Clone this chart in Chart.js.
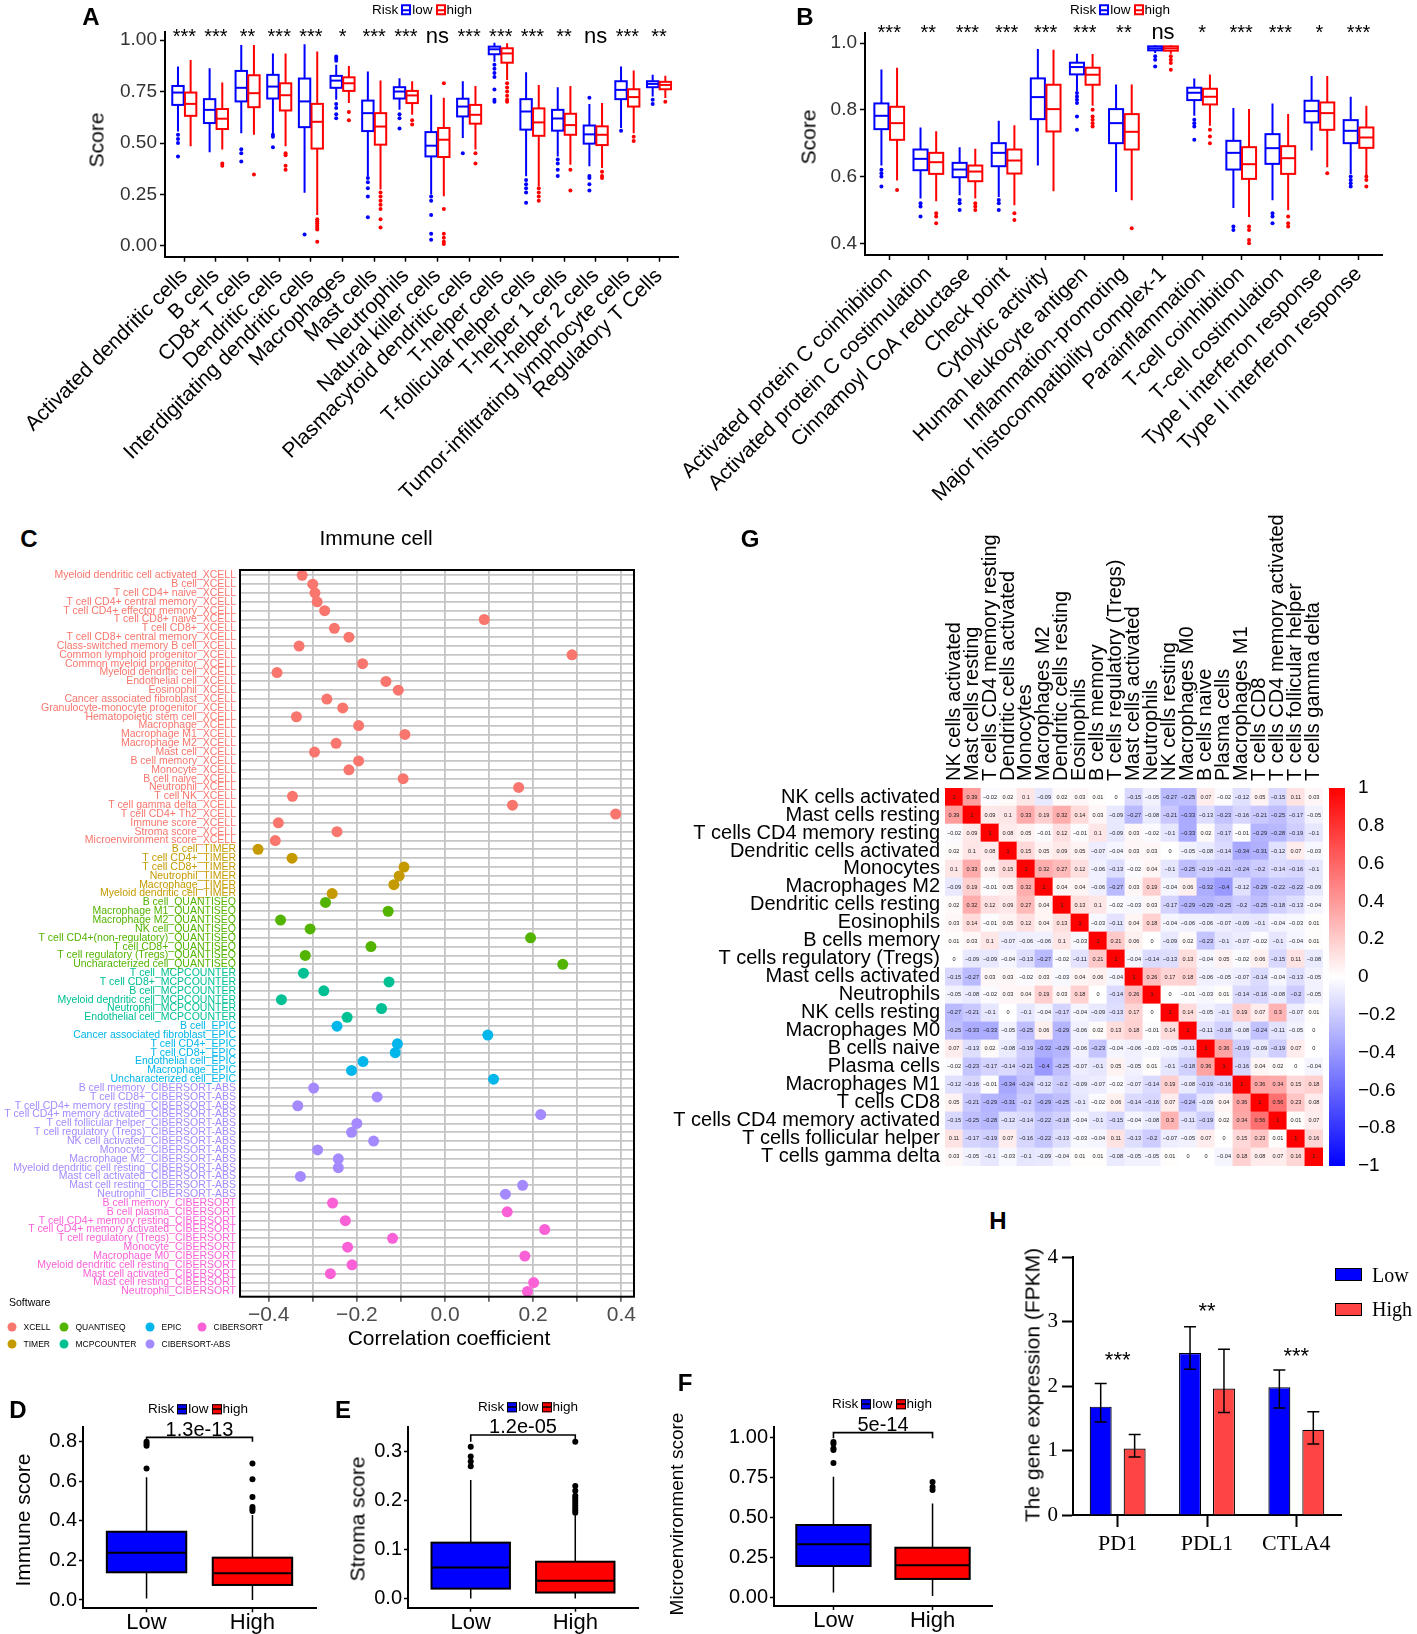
<!DOCTYPE html>
<html>
<head>
<meta charset="utf-8">
<title>Immune landscape by risk group</title>
<script src="https://cdn.jsdelivr.net/npm/chart.js@4.4.1/dist/chart.umd.min.js"></script>
<style>
  html, body { margin: 0; padding: 0; background: #fff; }
  body { position: relative; width: 1417px; height: 1634px; overflow: hidden;
         font-family: "Liberation Sans", Arial, Helvetica, sans-serif; color: #000; }
  canvas { position: absolute; }
  .t { position: absolute; white-space: nowrap; line-height: 1; transform: translate(-50%, -50%); }
  .v { transform: translate(-50%, -50%) rotate(-90deg); }
  .letter { font-weight: bold; font-size: 24px; }
  .leg { position: absolute; white-space: nowrap; line-height: 1; font-size: 13.5px;
         transform: translateY(-50%); display: flex; align-items: center; }
  .ob { display: inline-block; width: 10px; height: 11px; box-sizing: border-box; border: 2px solid currentColor;
        background: linear-gradient(currentColor, currentColor) center / 100% 2px no-repeat; margin: 0 1px 0 3px; }
  .fb { display: inline-block; width: 10px; height: 10px; box-sizing: border-box; border: 1px solid #000;
        background: linear-gradient(#000, #000) center / 100% 1.5px no-repeat; margin: 0 1px 0 3px; }
  .sw { position: absolute; white-space: nowrap; line-height: 1; font-size: 8.5px;
        transform: translate(-4.5px, -50%); display: flex; align-items: center; }
  .sw i { display: inline-block; width: 9px; height: 9px; border-radius: 50%; margin-right: 7px; }
  .hl { position: absolute; width: 27px; height: 13px; box-sizing: border-box; border: 1.5px solid #000; }
  .serif { font-family: "Liberation Serif", "Times New Roman", serif; }
</style>
</head>
<body>
<canvas id="chartA" width="700" height="520" style="left:0;top:0"></canvas>
<canvas id="chartB" width="777" height="520" style="left:640px;top:0"></canvas>
<canvas id="chartC" width="660" height="780" style="left:0;top:555px"></canvas>
<canvas id="chartG" width="770" height="720" style="left:640px;top:480px"></canvas>
<canvas id="chartD" width="330" height="244" style="left:0;top:1390px"></canvas>
<canvas id="chartE" width="330" height="244" style="left:330px;top:1390px"></canvas>
<canvas id="chartF" width="350" height="244" style="left:660px;top:1390px"></canvas>
<canvas id="chartH" width="427" height="340" style="left:990px;top:1240px"></canvas>

<!-- panel letters -->
<div class="t letter" style="left:91px;top:17px">A</div>
<div class="t letter" style="left:805px;top:17px">B</div>
<div class="t letter" style="left:29px;top:539px">C</div>
<div class="t letter" style="left:750px;top:539px">G</div>
<div class="t letter" style="left:18px;top:1410px">D</div>
<div class="t letter" style="left:343px;top:1410px">E</div>
<div class="t letter" style="left:685px;top:1383px">F</div>
<div class="t letter" style="left:998px;top:1221px">H</div>

<!-- legends A / B -->
<div class="leg" style="left:372px;top:10px">Risk<span class="ob" style="color:#0000FF"></span>low<span class="ob" style="color:#FF0000"></span>high</div>
<div class="leg" style="left:1070px;top:10px">Risk<span class="ob" style="color:#0000FF"></span>low<span class="ob" style="color:#FF0000"></span>high</div>

<!-- axis titles -->
<div class="t v" style="left:96px;top:140px;font-size:21px">Score</div>
<div class="t v" style="left:808px;top:137px;font-size:21px">Score</div>
<div class="t" style="left:376px;top:537px;font-size:21px">Immune cell</div>
<div class="t" style="left:449px;top:1337px;font-size:21px">Correlation coefficient</div>
<div class="t v" style="left:22px;top:1520px;font-size:21px">Immune score</div>
<div class="t v" style="left:357px;top:1519px;font-size:21px">Stroma score</div>
<div class="t v" style="left:676px;top:1514px;font-size:19px">Microenvironment score</div>
<div class="t v" style="left:1032px;top:1385px;font-size:21px">The gene expression (FPKM)</div>

<!-- software legend (C) -->
<div style="position:absolute;left:9px;top:1297px;font-size:10.5px;line-height:1">Software</div>
<div class="sw" style="left:12px;top:1327px"><i style="background:#F8766D"></i>XCELL</div>
<div class="sw" style="left:64px;top:1327px"><i style="background:#53B400"></i>QUANTISEQ</div>
<div class="sw" style="left:150px;top:1327px"><i style="background:#00B6EB"></i>EPIC</div>
<div class="sw" style="left:202px;top:1327px"><i style="background:#FB61D7"></i>CIBERSORT</div>
<div class="sw" style="left:12px;top:1344px"><i style="background:#C49A00"></i>TIMER</div>
<div class="sw" style="left:64px;top:1344px"><i style="background:#00C094"></i>MCPCOUNTER</div>
<div class="sw" style="left:150px;top:1344px"><i style="background:#A58AFF"></i>CIBERSORT-ABS</div>

<!-- legends D / E / F -->
<div class="leg" style="left:148px;top:1409px">Risk<span class="fb" style="background-color:#0000FF"></span>low<span class="fb" style="background-color:#FF0000"></span>high</div>
<div class="leg" style="left:478px;top:1407px">Risk<span class="fb" style="background-color:#0000FF"></span>low<span class="fb" style="background-color:#FF0000"></span>high</div>
<div class="leg" style="left:832px;top:1404px">Risk<span class="fb" style="background-color:#0000FF"></span>low<span class="fb" style="background-color:#FF0000"></span> high</div>

<!-- legend H -->
<div class="hl" style="left:1335px;top:1268px;background:#0000FF"></div>
<div class="t serif" style="left:1372px;top:1275px;font-size:20px;transform:translateY(-50%)">Low</div>
<div class="hl" style="left:1335px;top:1303px;background:#FF4444"></div>
<div class="t serif" style="left:1372px;top:1309px;font-size:20px;transform:translateY(-50%)">High</div>

<script>
const FONT = '"Liberation Sans", Arial, Helvetica, sans-serif';
const SERIF = '"Liberation Serif", "Times New Roman", serif';
const LOW = '#0000FF';
const HIGH = '#FF0000';

// ---------- panel A : immune cell scores ----------
const aCategories = ['Activated dendritic cells', 'B cells', 'CD8+ T cells', 'Dendritic cells',
  'Interdigitating dendritic cells', 'Macrophages', 'Mast cells', 'Neutrophils', 'Natural killer cells',
  'Plasmacytoid dendritic cells', 'T-helper cells', 'T-follicular helper cells', 'T-helper 1 cells',
  'T-helper 2 cells', 'Tumor-infiltrating lymphocyte cells', 'Regulatory T Cells'];
// [lower whisker, q1, median, q3, upper whisker]
const aLowStats = [
  [0.556, 0.685, 0.745, 0.777, 0.871], [0.455, 0.597, 0.661, 0.713, 0.863],
  [0.548, 0.702, 0.768, 0.850, 0.976], [0.548, 0.716, 0.774, 0.831, 0.935],
  [0.258, 0.577, 0.702, 0.813, 0.979], [0.710, 0.768, 0.803, 0.826, 0.880],
  [0.339, 0.558, 0.645, 0.706, 0.847], [0.661, 0.716, 0.750, 0.771, 0.815],
  [0.250, 0.435, 0.487, 0.553, 0.734], [0.524, 0.629, 0.677, 0.715, 0.800],
  [0.895, 0.931, 0.955, 0.968, 0.987], [0.339, 0.565, 0.653, 0.713, 0.844],
  [0.435, 0.560, 0.619, 0.661, 0.771], [0.387, 0.497, 0.542, 0.585, 0.690],
  [0.573, 0.713, 0.758, 0.800, 0.871], [0.726, 0.771, 0.787, 0.800, 0.831]];
const aHighStats = [
  [0.484, 0.632, 0.690, 0.745, 0.903], [0.468, 0.568, 0.618, 0.665, 0.794],
  [0.540, 0.674, 0.742, 0.829, 0.976], [0.484, 0.658, 0.732, 0.790, 0.935],
  [0.150, 0.473, 0.603, 0.690, 0.944], [0.694, 0.753, 0.790, 0.819, 0.874],
  [0.274, 0.492, 0.580, 0.645, 0.803], [0.637, 0.694, 0.731, 0.753, 0.800],
  [0.242, 0.432, 0.516, 0.573, 0.720], [0.468, 0.594, 0.637, 0.685, 0.777],
  [0.806, 0.890, 0.935, 0.960, 0.984], [0.290, 0.535, 0.600, 0.668, 0.782],
  [0.395, 0.540, 0.587, 0.642, 0.777], [0.379, 0.490, 0.540, 0.581, 0.694],
  [0.548, 0.677, 0.723, 0.761, 0.852], [0.718, 0.761, 0.782, 0.797, 0.826]];
const aLowOutliers = [[0.54, 0.52, 0.50, 0.435], [], [0.47, 0.45, 0.41], [0.54, 0.53, 0.48], [0.056],
  [0.92, 0.91, 0.90, 0.69, 0.67, 0.64, 0.62], [0.33, 0.31, 0.28, 0.24, 0.14], [0.64, 0.62, 0.57],
  [0.24, 0.22, 0.15, 0.06, 0.03], [0.45], [0.88, 0.86, 0.84, 0.82, 0.76, 0.71, 0.70],
  [0.32, 0.30, 0.28, 0.26, 0.21], [0.42, 0.40, 0.37, 0.34], [0.72, 0.34, 0.33, 0.30, 0.27], [0.56], [0.71, 0.69]];
const aHighOutliers = [[], [0.40, 0.39], [0.347], [0.45, 0.44, 0.39, 0.37], [0.13, 0.12, 0.11, 0.10, 0.09, 0.08, 0.02],
  [0.65, 0.61], [0.26, 0.24, 0.22, 0.20, 0.18, 0.13, 0.09], [0.61, 0.59], [0.79, 0.18, 0.06, 0.04, 0.02, 0.01],
  [0.45, 0.40], [0.79, 0.77, 0.75, 0.73, 0.71, 0.70], [0.28, 0.26, 0.24, 0.22], [0.37, 0.27], [0.36, 0.34, 0.33],
  [0.53, 0.51], [0.70]];
const aSignif = ['***', '***', '**', '***', '***', '*', '***', '***', 'ns', '***', '***', '***', '**', 'ns', '***', '**'];

// ---------- panel B : immune function scores ----------
const bCategories = ['Activated protein C coinhibition', 'Activated protein C costimulation',
  'Cinnamoyl CoA reductase', 'Check point', 'Cytolytic activity', 'Human leukocyte antigen',
  'Inflammation-promoting', 'Major histocompatibility complex-1', 'Parainflammation',
  'T-cell coinhibition', 'T-cell costimulation', 'Type I interferon response', 'Type II interferon response'];
const bLowStats = [
  [0.633, 0.742, 0.782, 0.819, 0.921], [0.534, 0.619, 0.653, 0.681, 0.747],
  [0.544, 0.598, 0.621, 0.641, 0.688], [0.539, 0.631, 0.671, 0.700, 0.767],
  [0.633, 0.772, 0.838, 0.894, 0.982], [0.856, 0.906, 0.928, 0.941, 0.968],
  [0.554, 0.700, 0.760, 0.802, 0.876], [0.970, 0.978, 0.984, 0.990, 0.993],
  [0.782, 0.829, 0.851, 0.866, 0.894], [0.506, 0.621, 0.671, 0.707, 0.805],
  [0.529, 0.638, 0.685, 0.727, 0.819], [0.678, 0.762, 0.796, 0.827, 0.901],
  [0.608, 0.700, 0.737, 0.769, 0.839]];
const bHighStats = [
  [0.588, 0.710, 0.760, 0.809, 0.926], [0.526, 0.608, 0.643, 0.671, 0.736],
  [0.534, 0.586, 0.615, 0.633, 0.683], [0.514, 0.609, 0.648, 0.681, 0.754],
  [0.556, 0.735, 0.802, 0.875, 0.980], [0.812, 0.875, 0.905, 0.926, 0.967],
  [0.529, 0.681, 0.734, 0.787, 0.876], [0.968, 0.977, 0.984, 0.990, 0.993],
  [0.752, 0.816, 0.839, 0.863, 0.906], [0.479, 0.593, 0.637, 0.688, 0.802],
  [0.499, 0.608, 0.655, 0.691, 0.787], [0.628, 0.740, 0.790, 0.822, 0.901],
  [0.603, 0.686, 0.717, 0.747, 0.812]];
const bLowOutliers = [[0.62, 0.61, 0.60, 0.57], [0.52, 0.51, 0.48], [0.53, 0.52, 0.50], [0.53, 0.52, 0.50], [],
  [0.85, 0.84, 0.83, 0.82, 0.78, 0.74], [], [0.96, 0.95, 0.93], [0.77, 0.76, 0.75, 0.71], [0.45, 0.44],
  [0.49, 0.48, 0.46], [], [0.60, 0.59, 0.58, 0.57]];
const bHighOutliers = [[0.56], [0.49, 0.48, 0.46], [0.52, 0.51, 0.50], [0.49, 0.47], [],
  [0.80, 0.78, 0.77, 0.76, 0.75], [0.445], [0.96, 0.95, 0.94, 0.92], [0.74, 0.72, 0.70],
  [0.45, 0.44, 0.41, 0.40], [0.48, 0.46, 0.45], [0.61], [0.60, 0.59, 0.57]];
const bSignif = ['***', '**', '***', '***', '***', '***', '**', 'ns', '*', '***', '***', '*', '***'];

// ---------- panel C : correlation with risk score ----------
const cLabels = [
  'Myeloid dendritic cell activated_XCELL', 'B cell_XCELL', 'T cell CD4+ naive_XCELL',
  'T cell CD4+ central memory_XCELL', 'T cell CD4+ effector memory_XCELL', 'T cell CD8+ naive_XCELL',
  'T cell CD8+_XCELL', 'T cell CD8+ central memory_XCELL', 'Class-switched memory B cell_XCELL',
  'Common lymphoid progenitor_XCELL', 'Common myeloid progenitor_XCELL', 'Myeloid dendritic cell_XCELL',
  'Endothelial cell_XCELL', 'Eosinophil_XCELL', 'Cancer associated fibroblast_XCELL',
  'Granulocyte-monocyte progenitor_XCELL', 'Hematopoietic stem cell_XCELL', 'Macrophage_XCELL',
  'Macrophage M1_XCELL', 'Macrophage M2_XCELL', 'Mast cell_XCELL', 'B cell memory_XCELL', 'Monocyte_XCELL',
  'B cell naive_XCELL', 'Neutrophil_XCELL', 'T cell NK_XCELL', 'T cell gamma delta_XCELL',
  'T cell CD4+ Th2_XCELL', 'Immune score_XCELL', 'Stroma score_XCELL', 'Microenvironment score_XCELL',
  'B cell_TIMER', 'T cell CD4+_TIMER', 'T cell CD8+_TIMER', 'Neutrophil_TIMER', 'Macrophage_TIMER',
  'Myeloid dendritic cell_TIMER',
  'B cell_QUANTISEQ', 'Macrophage M1_QUANTISEQ', 'Macrophage M2_QUANTISEQ', 'NK cell_QUANTISEQ',
  'T cell CD4+(non-regulatory)_QUANTISEQ', 'T cell CD8+_QUANTISEQ', 'T cell regulatory (Tregs)_QUANTISEQ',
  'Uncharacterized cell_QUANTISEQ',
  'T cell_MCPCOUNTER', 'T cell CD8+_MCPCOUNTER', 'B cell_MCPCOUNTER', 'Myeloid dendritic cell_MCPCOUNTER',
  'Neutrophil_MCPCOUNTER', 'Endothelial cell_MCPCOUNTER',
  'B cell_EPIC', 'Cancer associated fibroblast_EPIC', 'T cell CD4+_EPIC', 'T cell CD8+_EPIC',
  'Endothelial cell_EPIC', 'Macrophage_EPIC', 'Uncharacterized cell_EPIC',
  'B cell memory_CIBERSORT-ABS', 'T cell CD8+_CIBERSORT-ABS', 'T cell CD4+ memory resting_CIBERSORT-ABS',
  'T cell CD4+ memory activated_CIBERSORT-ABS', 'T cell follicular helper_CIBERSORT-ABS',
  'T cell regulatory (Tregs)_CIBERSORT-ABS', 'NK cell activated_CIBERSORT-ABS', 'Monocyte_CIBERSORT-ABS',
  'Macrophage M2_CIBERSORT-ABS', 'Myeloid dendritic cell resting_CIBERSORT-ABS',
  'Mast cell activated_CIBERSORT-ABS', 'Mast cell resting_CIBERSORT-ABS', 'Neutrophil_CIBERSORT-ABS',
  'B cell memory_CIBERSORT', 'B cell plasma_CIBERSORT', 'T cell CD4+ memory resting_CIBERSORT',
  'T cell CD4+ memory activated_CIBERSORT', 'T cell regulatory (Tregs)_CIBERSORT', 'Monocyte_CIBERSORT',
  'Macrophage M0_CIBERSORT', 'Myeloid dendritic cell resting_CIBERSORT', 'Mast cell activated_CIBERSORT',
  'Mast cell resting_CIBERSORT', 'Neutrophil_CIBERSORT'];
const cCorr = [
  -0.324, -0.300, -0.295, -0.290, -0.273, 0.089, -0.251, -0.218, -0.331, 0.288, -0.187, -0.381, -0.134,
  -0.106, -0.268, -0.232, -0.337, -0.196, -0.091, -0.247, -0.296, -0.196, -0.218, -0.095, 0.167, -0.346,
  0.153, 0.387, -0.378, -0.245, -0.385,
  -0.424, -0.347, -0.093, -0.104, -0.116, -0.256,
  -0.271, -0.129, -0.373, -0.306, 0.194, -0.168, -0.317, 0.267,
  -0.321, -0.127, -0.275, -0.371, -0.144, -0.222,
  -0.245, 0.097, -0.108, -0.113, -0.186, -0.212, 0.110,
  -0.298, -0.154, -0.334, 0.217, -0.200, -0.212, -0.162, -0.289, -0.242, -0.242, -0.328, 0.176, 0.137,
  -0.255, 0.141, -0.226, 0.226, -0.119, -0.221, 0.181, -0.211, -0.260, 0.201, 0.187];
const cSoftware = cLabels.map(l => l.slice(l.lastIndexOf('_') + 1));
const swColors = { 'XCELL': '#F8766D', 'TIMER': '#C49A00', 'QUANTISEQ': '#53B400', 'MCPCOUNTER': '#00C094',
  'EPIC': '#00B6EB', 'CIBERSORT-ABS': '#A58AFF', 'CIBERSORT': '#FB61D7' };

// ---------- panel G : correlation among CIBERSORT cells ----------
const cellNames = ['NK cells activated', 'Mast cells resting', 'T cells CD4 memory resting',
  'Dendritic cells activated', 'Monocytes', 'Macrophages M2', 'Dendritic cells resting', 'Eosinophils',
  'B cells memory', 'T cells regulatory (Tregs)', 'Mast cells activated', 'Neutrophils', 'NK cells resting',
  'Macrophages M0', 'B cells naive', 'Plasma cells', 'Macrophages M1', 'T cells CD8',
  'T cells CD4 memory activated', 'T cells follicular helper', 'T cells gamma delta'];
// upper triangle, row i holds columns i..20
const corrUpper = [
  [1, 0.39, -0.02, 0.02, 0.1, -0.09, 0.02, 0.03, 0.01, 0, -0.15, -0.05, -0.27, -0.25, 0.07, -0.02, -0.12, 0.05, -0.15, 0.11, 0.03],
  [1, 0.09, 0.1, 0.33, 0.19, 0.32, 0.14, 0.03, -0.09, -0.27, -0.08, -0.21, -0.33, -0.13, -0.23, -0.16, -0.21, -0.25, -0.17, -0.05],
  [1, 0.08, 0.05, -0.01, 0.12, -0.01, 0.1, -0.09, 0.03, -0.02, -0.1, -0.33, 0.02, -0.17, -0.01, -0.29, -0.28, -0.19, -0.1],
  [1, 0.15, 0.05, 0.09, 0.05, -0.07, -0.04, 0.03, 0.03, 0, -0.05, -0.08, -0.14, -0.34, -0.31, -0.12, 0.07, -0.03],
  [1, 0.32, 0.27, 0.12, -0.06, -0.13, -0.02, 0.04, -0.1, -0.25, -0.19, -0.21, -0.24, -0.2, -0.14, -0.16, -0.1],
  [1, 0.04, 0.04, -0.06, -0.27, 0.03, 0.19, -0.04, 0.06, -0.32, -0.4, -0.12, -0.29, -0.22, -0.22, -0.09],
  [1, 0.13, 0.1, -0.02, -0.03, 0.03, -0.17, -0.29, -0.29, -0.25, -0.2, -0.25, -0.18, -0.13, -0.04],
  [1, -0.03, -0.11, 0.04, 0.18, -0.04, -0.06, -0.06, -0.07, -0.09, -0.1, -0.04, -0.03, 0.01],
  [1, 0.21, 0.06, 0, -0.09, 0.02, -0.23, -0.1, -0.07, -0.02, -0.1, -0.04, 0.01],
  [1, -0.04, -0.14, -0.13, 0.13, -0.04, 0.05, -0.02, 0.06, -0.15, 0.11, -0.08],
  [1, 0.26, 0.17, 0.18, -0.06, -0.05, -0.07, -0.14, -0.04, -0.13, -0.05],
  [1, 0, -0.01, -0.03, 0.01, -0.14, -0.16, -0.08, -0.2, -0.05],
  [1, 0.14, -0.05, -0.1, 0.19, 0.07, 0.3, -0.07, 0.01],
  [1, -0.11, -0.18, -0.08, -0.24, -0.11, -0.05, 0],
  [1, 0.36, -0.19, -0.09, -0.19, 0.07, 0],
  [1, -0.16, 0.04, 0.02, 0, -0.04],
  [1, 0.36, 0.34, 0.15, 0.18],
  [1, 0.56, 0.23, 0.08],
  [1, 0.01, 0.07],
  [1, 0.16],
  [1]];
const colorTicks = [1, 0.8, 0.6, 0.4, 0.2, 0, -0.2, -0.4, -0.6, -0.8, -1];

// ---------- panels D-F : ESTIMATE scores ----------
const riskGroups = ['Low', 'High'];
const dLowStats = [0.008, 0.140, 0.239, 0.345, 0.620];
const dHighStats = [0.000, 0.076, 0.135, 0.214, 0.430];
const dLowOutliers = [0.665, 0.78, 0.79, 0.80];
const dHighOutliers = [0.45, 0.46, 0.47, 0.52, 0.61, 0.69];
const eLowStats = [0.000, 0.020, 0.063, 0.114, 0.242];
const eHighStats = [0.000, 0.012, 0.036, 0.075, 0.170];
const eLowOutliers = [0.27, 0.28, 0.29, 0.31];
const eHighOutliers = [0.175, 0.18, 0.185, 0.19, 0.195, 0.20, 0.205, 0.21, 0.22, 0.23, 0.32];
const fLowStats = [0.030, 0.196, 0.331, 0.452, 0.754];
const fHighStats = [0.008, 0.115, 0.200, 0.310, 0.587];
const fLowOutliers = [0.84, 0.92, 0.93, 0.96, 0.97];
const fHighOutliers = [0.67, 0.69, 0.72];
const pValues = ['1.3e-13', '1.2e-05', '5e-14'];

// ---------- panel H : checkpoint genes ----------
const hGenes = ['PD1', 'PDL1', 'CTLA4'];
const hLow = [1.68, 2.51, 1.98];
const hLowLo = [1.44, 2.26, 1.66];
const hLowHi = [2.04, 2.92, 2.25];
const hHigh = [1.03, 1.96, 1.32];
const hHighLo = [0.90, 1.59, 1.10];
const hHighHi = [1.25, 2.57, 1.60];
const hSignif = ['***', '**', '***'];

// ---------- shared setup ----------
Chart.defaults.font.family = FONT;
Chart.defaults.color = '#000';
Chart.defaults.animation = false;
Chart.defaults.responsive = false;
Chart.defaults.maintainAspectRatio = false;
Chart.defaults.events = [];
Chart.defaults.plugins.legend.display = false;
Chart.defaults.plugins.tooltip.enabled = false;

const minus = s => String(s).replace('-', '\u2212');
const fixedY = w => s => { s.width = w; s.paddingTop = 0; s.paddingBottom = 0; };
const fixedX = h => s => { s.height = h; s.paddingLeft = 0; s.paddingRight = 0; };
const outPoints = (lists, off) => lists.flatMap((arr, i) => arr.map(v => ({ x: i + off, y: v })));

function corrColor(v) {
  const c = Math.round(255 * (1 - Math.min(1, Math.abs(v))));
  return v >= 0 ? `rgb(255,${c},${c})` : `rgb(${c},${c},255)`;
}

const boxPlugin = {
  id: 'boxes',
  beforeDatasetsDraw(chart, args, opts) {
    const { ctx, scales: { x, y } } = chart;
    opts.groups.forEach(g => {
      g.stats.forEach((s, i) => {
        const pos = g.start + i + g.offset;
        const cx = x.getPixelForValue(pos);
        const half = x.getPixelForValue(pos + g.half) - cx;
        const [lo, q1, med, q3, hi] = s.map(v => y.getPixelForValue(v));
        ctx.save();
        ctx.strokeStyle = g.stroke;
        ctx.lineWidth = g.whisker;
        ctx.beginPath();
        ctx.moveTo(cx, lo); ctx.lineTo(cx, q1);
        ctx.moveTo(cx, q3); ctx.lineTo(cx, hi);
        ctx.stroke();
        ctx.fillStyle = g.fill;
        ctx.fillRect(cx - half, q3, 2 * half, q1 - q3);
        ctx.lineWidth = g.line;
        ctx.strokeRect(cx - half, q3, 2 * half, q1 - q3);
        ctx.beginPath();
        ctx.moveTo(cx - half, med); ctx.lineTo(cx + half, med);
        ctx.stroke();
        ctx.restore();
      });
    });
  }
};

const sigPlugin = {
  id: 'sig',
  afterDatasetsDraw(chart, args, o) {
    const { ctx, scales: { x, y } } = chart;
    ctx.save();
    ctx.fillStyle = '#000';
    ctx.textAlign = 'center';
    ctx.textBaseline = 'alphabetic';
    o.labels.forEach((s, i) => {
      ctx.font = (s === 'ns' ? o.nsSize : o.size) + 'px ' + FONT;
      const yv = Array.isArray(o.y) ? o.y[i] : o.y;
      ctx.fillText(s, x.getPixelForValue(i), y.getPixelForValue(yv));
    });
    ctx.restore();
  }
};

const bracketPlugin = {
  id: 'bracket',
  afterDatasetsDraw(chart, args, o) {
    const { ctx, scales: { x, y } } = chart;
    const x0 = x.getPixelForValue(0), x1 = x.getPixelForValue(1);
    const yb = y.getPixelForValue(o.y), yt = y.getPixelForValue(o.tickY);
    ctx.save();
    ctx.strokeStyle = '#000';
    ctx.lineWidth = 1.6;
    ctx.beginPath();
    ctx.moveTo(x0, yt); ctx.lineTo(x0, yb); ctx.lineTo(x1, yb); ctx.lineTo(x1, yt);
    ctx.stroke();
    ctx.font = '20px ' + FONT;
    ctx.fillStyle = '#000';
    ctx.textAlign = 'center';
    ctx.textBaseline = 'middle';
    ctx.fillText(o.text, (x0 + x1) / 2, y.getPixelForValue(o.labelY));
    ctx.restore();
  }
};

// ---------- A and B ----------
function riskBoxChart(id, p) {
  return new Chart(document.getElementById(id), {
    type: 'scatter',
    data: {
      datasets: [
        { data: outPoints(p.lowOut, -0.2), pointRadius: 2, pointBackgroundColor: LOW, pointBorderWidth: 0 },
        { data: outPoints(p.highOut, 0.2), pointRadius: 2, pointBackgroundColor: HIGH, pointBorderWidth: 0 }
      ]
    },
    options: {
      layout: { padding: { top: p.padTop, right: p.padRight, left: 0, bottom: 0 } },
      scales: {
        x: {
          type: 'linear', min: p.xMin, max: p.xMax,
          ticks: { stepSize: 1, includeBounds: false, autoSkip: false, minRotation: 45, maxRotation: 45,
            font: { size: 21 }, color: '#000', padding: 2,
            callback: v => Number.isInteger(v) ? p.cats[v] : null },
          grid: { drawOnChartArea: false, tickLength: 5, tickColor: '#000', tickWidth: 1.5 },
          border: { color: '#000', width: 2 },
          afterFit: fixedX(p.xHeight)
        },
        y: {
          type: 'linear', min: p.yMin, max: p.yMax,
          ticks: { stepSize: p.yStep, includeBounds: false, font: { size: 19 }, color: '#333', padding: 3,
            callback: v => v.toFixed(p.digits) },
          grid: { drawOnChartArea: false, tickLength: 5, tickColor: '#000', tickWidth: 1.5 },
          border: { color: '#000', width: 2 },
          afterFit: fixedY(p.yWidth)
        }
      },
      plugins: {
        boxes: { groups: [
          { stats: p.low, start: 0, offset: -0.2, half: 0.18, stroke: LOW, fill: '#fff', line: 2, whisker: 2 },
          { stats: p.high, start: 0, offset: 0.2, half: 0.18, stroke: HIGH, fill: '#fff', line: 2, whisker: 2 }
        ] },
        sig: { labels: p.sig, y: p.sigY, size: 20, nsSize: 22 }
      }
    },
    plugins: [boxPlugin, sigPlugin]
  });
}

riskBoxChart('chartA', {
  cats: aCategories, low: aLowStats, high: aHighStats, lowOut: aLowOutliers, highOut: aHighOutliers,
  sig: aSignif, sigY: 0.985, xMin: -0.61, xMax: 15.6, yMin: -0.052, yMax: 1.04, yStep: 0.25, digits: 2,
  padTop: 31.8, padRight: 22, yWidth: 165, xHeight: 263.3
});

riskBoxChart('chartB', {
  cats: bCategories, low: bLowStats, high: bHighStats, lowOut: bLowOutliers, highOut: bHighOutliers,
  sig: bSignif, sigY: 1.0135, xMin: -0.62, xMax: 12.6, yMin: 0.365, yMax: 1.03, yStep: 0.2, digits: 1,
  padTop: 33, padRight: 35, yWidth: 225, xHeight: 265
});

// ---------- C ----------
const framePlugin = {
  id: 'frame',
  afterDraw(chart) {
    const { ctx, chartArea: a } = chart;
    ctx.save();
    ctx.strokeStyle = '#000';
    ctx.lineWidth = 2;
    ctx.strokeRect(a.left, a.top, a.right - a.left, a.bottom - a.top);
    ctx.restore();
  }
};

new Chart(document.getElementById('chartC'), {
  type: 'scatter',
  data: {
    datasets: [{
      data: cCorr.map((v, i) => ({ x: v, y: i })),
      pointRadius: 5.5,
      pointBackgroundColor: cSoftware.map(s => swColors[s]),
      pointBorderWidth: 0
    }]
  },
  options: {
    layout: { padding: { top: 15, right: 26, left: 0, bottom: 0 } },
    scales: {
      x: {
        type: 'linear', min: -0.465, max: 0.4286,
        ticks: { stepSize: 0.1, includeBounds: false, autoSkip: false, maxRotation: 0, font: { size: 21 },
          color: '#4D4D4D', padding: 1,
          callback: v => { const k = Math.round(v * 10); return k % 2 === 0 ? minus((k / 10).toFixed(1)) : ''; } },
        grid: { color: '#C6C6C6', lineWidth: 1.8, tickColor: '#333', tickLength: 5, tickWidth: 1.3 },
        border: { display: false },
        afterFit: fixedX(38.3)
      },
      y: {
        type: 'linear', reverse: true, min: -0.6, max: 81.6,
        ticks: { stepSize: 1, includeBounds: false, autoSkip: false, font: { size: 10.5 }, padding: 4,
          color: ctx => (ctx.tick && swColors[cSoftware[ctx.tick.value]]) || '#000',
          callback: v => Number.isInteger(v) ? cLabels[v] : null },
        grid: { color: '#C6C6C6', lineWidth: 1.8, drawTicks: false },
        border: { display: false },
        afterFit: fixedY(240)
      }
    }
  },
  plugins: [framePlugin]
});

// ---------- G ----------
const corrMatrix = cellNames.map((_, i) => cellNames.map((__, j) =>
  j >= i ? corrUpper[i][j - i] : corrUpper[j][i - j]));
const corrCells = corrMatrix.flatMap((row, i) => row.map((v, j) => ({ x: j, y: i, v })));

const heatPlugin = {
  id: 'heat',
  afterDatasetsDraw(chart) {
    const { ctx, chartArea: a, scales: { x } } = chart;
    const meta = chart.getDatasetMeta(0);
    const pts = chart.data.datasets[0].data;
    ctx.save();
    ctx.font = '5.6px ' + FONT;
    ctx.fillStyle = '#222';
    ctx.textAlign = 'center';
    ctx.textBaseline = 'middle';
    meta.data.forEach((el, k) => ctx.fillText(minus(pts[k].v), el.x, el.y));
    // column labels
    ctx.font = '20px ' + FONT;
    ctx.fillStyle = '#000';
    ctx.textAlign = 'left';
    cellNames.forEach((n, i) => {
      ctx.save();
      ctx.translate(x.getPixelForValue(i), a.top - 7);
      ctx.rotate(-Math.PI / 2);
      ctx.fillText(n, 0, 0);
      ctx.restore();
    });
    // colour key
    const x0 = a.right + 6, w = 16, h = a.bottom - a.top;
    const grad = ctx.createLinearGradient(0, a.top, 0, a.bottom);
    grad.addColorStop(0, corrColor(1));
    grad.addColorStop(0.5, corrColor(0));
    grad.addColorStop(1, corrColor(-1));
    ctx.fillStyle = grad;
    ctx.fillRect(x0, a.top, w, h);
    ctx.font = '19px ' + FONT;
    ctx.fillStyle = '#000';
    colorTicks.forEach(v => ctx.fillText(minus(v), x0 + w + 13, a.top + (1 - v) / 2 * h));
    ctx.restore();
  }
};

new Chart(document.getElementById('chartG'), {
  type: 'scatter',
  data: {
    datasets: [{
      data: corrCells,
      pointStyle: 'rect',
      pointRadius: ctx => {
        const s = ctx.chart.scales.x;
        return s ? (Math.abs(s.getPixelForValue(1) - s.getPixelForValue(0)) + 0.7) / Math.SQRT2 : 0;
      },
      pointBackgroundColor: ctx => ctx.raw ? corrColor(ctx.raw.v) : '#fff',
      pointBorderWidth: 0
    }]
  },
  options: {
    layout: { padding: { top: 308, right: 87, left: 0, bottom: 34 } },
    scales: {
      x: { type: 'linear', display: false, min: -0.5, max: 20.505 },
      y: {
        type: 'linear', reverse: true, min: -0.5, max: 20.505,
        ticks: { stepSize: 1, includeBounds: false, autoSkip: false, font: { size: 20 }, color: '#000', padding: 5,
          callback: v => Number.isInteger(v) ? cellNames[v] : null },
        grid: { display: false, drawTicks: false },
        border: { display: false },
        afterFit: fixedY(305)
      }
    }
  },
  plugins: [heatPlugin]
});

// ---------- D, E, F ----------
function scoreChart(id, p) {
  return new Chart(document.getElementById(id), {
    type: 'scatter',
    data: {
      datasets: [
        { data: outPoints([p.lowOut], 0), pointRadius: 3, pointBackgroundColor: '#000', pointBorderWidth: 0 },
        { data: outPoints([p.highOut], 1), pointRadius: 3, pointBackgroundColor: '#000', pointBorderWidth: 0 }
      ]
    },
    options: {
      layout: { padding: { top: p.padTop, right: p.padRight, left: 0, bottom: 0 } },
      scales: {
        x: {
          type: 'linear', min: -0.6, max: 1.6,
          ticks: { stepSize: 1, includeBounds: false, autoSkip: false, maxRotation: 0,
            font: { size: 22, lineHeight: 1 }, color: '#000', padding: 0,
            callback: v => Number.isInteger(v) ? riskGroups[v] : null },
          grid: { drawOnChartArea: false, tickLength: 4, tickColor: '#000', tickWidth: 1.5 },
          border: { color: '#000', width: 2 },
          afterFit: fixedX(p.xHeight)
        },
        y: {
          type: 'linear', min: p.yMin, max: p.yMax,
          ticks: { stepSize: p.yStep, includeBounds: false, font: { size: 20 }, color: '#000', padding: 2,
            callback: v => v.toFixed(p.digits) },
          grid: { drawOnChartArea: false, tickLength: 4, tickColor: '#000', tickWidth: 1.5 },
          border: { color: '#000', width: 2 },
          afterFit: fixedY(p.yWidth)
        }
      },
      plugins: {
        boxes: { groups: [
          { stats: [p.low], start: 0, offset: 0, half: 0.375, stroke: '#000', fill: LOW, line: 2, whisker: 1.5 },
          { stats: [p.high], start: 1, offset: 0, half: 0.375, stroke: '#000', fill: HIGH, line: 2, whisker: 1.5 }
        ] },
        bracket: { y: p.bracketY, tickY: p.bracketTickY, labelY: p.labelY, text: p.pText }
      }
    },
    plugins: [boxPlugin, bracketPlugin]
  });
}

scoreChart('chartD', {
  low: dLowStats, high: dHighStats, lowOut: dLowOutliers, highOut: dHighOutliers,
  yMin: -0.042, yMax: 0.876, yStep: 0.2, digits: 1, padTop: 36.7, padRight: 14, yWidth: 83, xHeight: 25.7,
  bracketY: 0.822, bracketTickY: 0.80, labelY: 0.859, pText: pValues[0]
});
scoreChart('chartE', {
  low: eLowStats, high: eHighStats, lowOut: eLowOutliers, highOut: eHighOutliers,
  yMin: -0.019, yMax: 0.351, yStep: 0.1, digits: 1, padTop: 36.7, padRight: 22, yWidth: 78, xHeight: 26.3,
  bracketY: 0.334, bracketTickY: 0.320, labelY: 0.349, pText: pValues[1]
});
scoreChart('chartF', {
  low: fLowStats, high: fHighStats, lowOut: fLowOutliers, highOut: fHighOutliers,
  yMin: -0.054, yMax: 1.066, yStep: 0.25, digits: 2, padTop: 36.7, padRight: 18, yWidth: 114, xHeight: 28,
  bracketY: 1.029, bracketTickY: 0.994, labelY: 1.071, pText: pValues[2]
});

// ---------- H ----------
const errPlugin = {
  id: 'errbars',
  afterDatasetsDraw(chart, args, o) {
    const { ctx, scales: { y } } = chart;
    ctx.save();
    ctx.strokeStyle = '#000';
    ctx.lineWidth = 1.5;
    chart.data.datasets.forEach((ds, d) => {
      chart.getDatasetMeta(d).data.forEach((bar, i) => {
        const yl = y.getPixelForValue(o.lo[d][i]), yh = y.getPixelForValue(o.hi[d][i]);
        ctx.beginPath();
        ctx.moveTo(bar.x, yl); ctx.lineTo(bar.x, yh);
        ctx.moveTo(bar.x - o.cap, yl); ctx.lineTo(bar.x + o.cap, yl);
        ctx.moveTo(bar.x - o.cap, yh); ctx.lineTo(bar.x + o.cap, yh);
        ctx.stroke();
      });
    });
    ctx.restore();
  }
};

new Chart(document.getElementById('chartH'), {
  type: 'bar',
  data: {
    labels: hGenes,
    datasets: [
      { label: 'Low', data: hLow, backgroundColor: '#0000FF', borderColor: '#000', borderWidth: 1.2,
        categoryPercentage: 0.76, barPercentage: 0.647 },
      { label: 'High', data: hHigh, backgroundColor: '#FF4444', borderColor: '#000', borderWidth: 1.2,
        categoryPercentage: 0.76, barPercentage: 0.647 }
    ]
  },
  options: {
    layout: { padding: { top: 17, right: 76, left: 0, bottom: 0 } },
    scales: {
      x: {
        ticks: { font: { family: SERIF, size: 22, lineHeight: 1 }, color: '#000', padding: 6 },
        grid: { offset: false, drawOnChartArea: false, tickLength: 12, tickColor: '#000', tickWidth: 2 },
        border: { color: '#000', width: 2 },
        afterFit: fixedX(65)
      },
      y: {
        min: 0, max: 4,
        ticks: { stepSize: 1, font: { family: SERIF, size: 21 }, color: '#000', padding: 4 },
        grid: { drawOnChartArea: false, tickLength: 11, tickColor: '#000', tickWidth: 2 },
        border: { color: '#000', width: 2 },
        afterFit: fixedY(83)
      }
    },
    plugins: {
      errbars: { lo: [hLowLo, hHighLo], hi: [hLowHi, hHighHi], cap: 6 },
      sig: { labels: hSignif, y: [2.29, 3.05, 2.36], size: 22, nsSize: 22 }
    }
  },
  plugins: [errPlugin, sigPlugin]
});
</script>
</body>
</html>
